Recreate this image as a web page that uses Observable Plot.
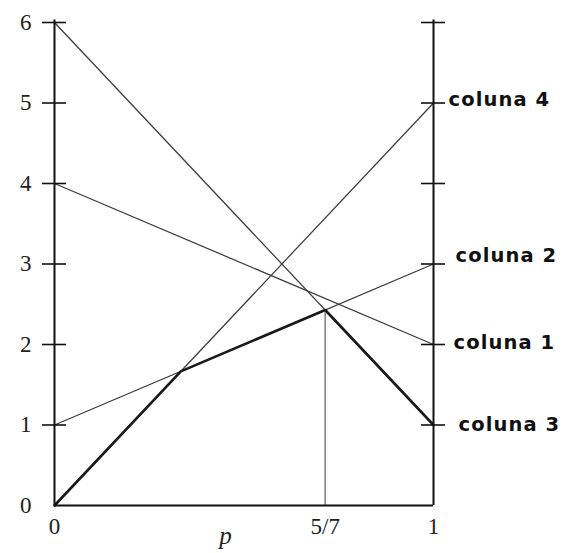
<!DOCTYPE html>
<html>
<head>
<meta charset="utf-8">
<script src="https://cdn.jsdelivr.net/npm/d3@7"></script>
<script src="https://cdn.jsdelivr.net/npm/@observablehq/plot@0.6"></script>
<style>
  html, body { margin: 0; padding: 0; background: #fff; }
  #chart svg { display: block; }
  #chart g[font-weight="bold"] { letter-spacing: 1.1px; }
</style>
</head>
<body>
<div id="chart"></div>
<script>
// Payoff of each column strategy as a function of p (lines from p=0 to p=1)
const columns = ["coluna 1", "coluna 2", "coluna 3", "coluna 4"];
const valueAtZero = [4, 1, 6, 0];
const valueAtOne = [2, 3, 1, 5];

// Lower envelope breakpoints (minimum over the columns)
const envelopeP = [0, 1 / 3, 5 / 7, 1];

// Axis ticks and labels
const yTicks = [0, 1, 2, 3, 4, 5, 6];
const xTickValues = [0, 5 / 7, 1];
const xTickLabels = ["0", "5/7", "1"];

// Per-label nudges (dx, dy) for the column names at the right edge
const labelNudge = {
  "coluna 1": [20, -2],
  "coluna 2": [22, -8],
  "coluna 3": [25, 0],
  "coluna 4": [15, -3]
};

const lines = columns.flatMap((c, i) => [
  {col: c, p: 0, v: valueAtZero[i]},
  {col: c, p: 1, v: valueAtOne[i]}
]);
const lineValue = (i, p) => valueAtZero[i] + (valueAtOne[i] - valueAtZero[i]) * p;
const envelope = envelopeP.map(p => ({p, v: d3.min(columns, (_, i) => lineValue(i, p))}));
const optimum = envelope[2];

const serif = "'Liberation Serif', 'DejaVu Serif', serif";
const sans = "'DejaVu Sans', 'Liberation Sans', sans-serif";

// one text mark per column name, each with its own nudge
const columnLabels = columns.map((c, i) => {
  const [dx, dy] = labelNudge[c];
  return Plot.text([{col: c, v: valueAtOne[i]}], {
    x: 1, y: "v", text: "col", textAnchor: "start", dx, dy,
    fontFamily: sans, fontWeight: "bold", fontSize: 19.5, fill: "#111"
  });
});

const chart = Plot.plot({
  width: 566,
  height: 553,
  marginLeft: 54,
  marginRight: 133,
  marginTop: 22,
  marginBottom: 48,
  x: {domain: [0, 1], axis: null},
  y: {domain: [0, 6], axis: null},
  marks: [
    // column payoff lines
    Plot.line(lines, {x: "p", y: "v", z: "col", stroke: "#3c3c3c", strokeWidth: 1.25}),
    // vertical marker at the optimal p
    Plot.ruleX([optimum], {x: "p", y1: 0, y2: "v", stroke: "#888", strokeWidth: 1.7}),
    // lower envelope
    Plot.line(envelope, {x: "p", y: "v", stroke: "#1a1a1a", strokeWidth: 2.6}),
    // axes
    Plot.ruleX([0, 1], {y1: 0, y2: 6.03, stroke: "#111", strokeWidth: 2}),
    Plot.ruleY([0], {x1: 0, x2: 1, stroke: "#111", strokeWidth: 2}),
    Plot.ruleY(yTicks.filter(d => d > 0), {y: d => d, x1: 0, x2: 0, insetLeft: -12, insetRight: -12, stroke: "#111", strokeWidth: 1.6}),
    Plot.ruleY(yTicks.filter(d => d > 0), {y: d => d, x1: 1, x2: 1, insetLeft: -12, insetRight: -12, stroke: "#111", strokeWidth: 1.6}),
    // y tick labels
    Plot.text(yTicks, {x: 0, y: d => d, text: d => String(d), dx: -23, textAnchor: "end", fontFamily: serif, fontSize: 23, fill: "#222"}),
    // x tick labels
    Plot.text(xTickValues, {x: d => d, y: 0, text: (d, i) => xTickLabels[i], dy: 21, fontFamily: serif, fontSize: 23, fill: "#222"}),
    // x axis title
    Plot.text(["p"], {x: 0.451, y: 0, text: d => d, dy: 38, lineAnchor: "bottom", fontFamily: serif, fontStyle: "italic", fontSize: 25, fill: "#222"}),
    ...columnLabels
  ]
});
document.getElementById("chart").appendChild(chart);
</script>
</body>
</html>
